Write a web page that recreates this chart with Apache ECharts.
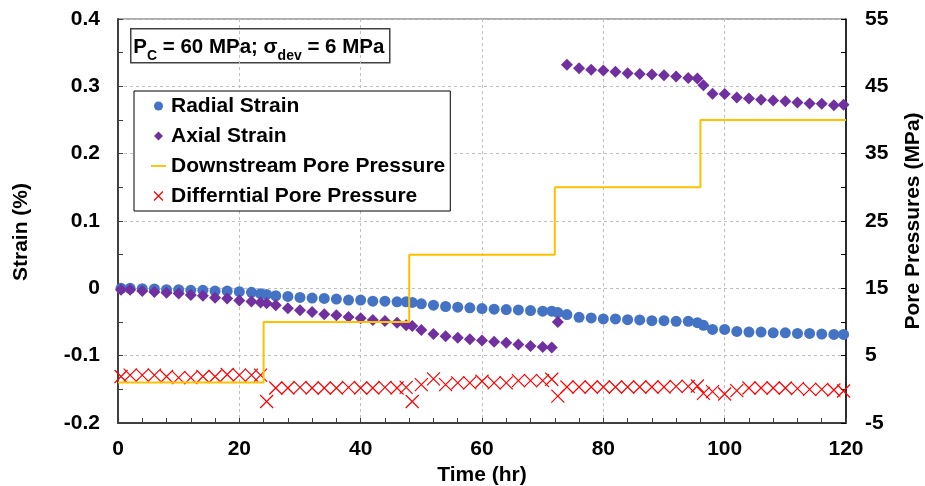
<!DOCTYPE html>
<html><head><meta charset="utf-8">
<script src="https://cdn.jsdelivr.net/npm/echarts@6/dist/echarts.min.js"></script>
<style>html,body{margin:0;padding:0;background:#fff}#chart{width:925px;height:486px}</style>
</head><body><div id="chart"></div>
<script>
// ---- data ----
const timeHr = [0.5,2,4,6,8,10,12,14,16,18,20,22,23.5,24.5,
  26,28,30,32,34,36,38,40,42,44,46,47.5,48.5,
  50,52,54,56,58,60,62,64,66,68,70,71.5,72.5,
  74,76,78,80,82,84,86,88,90,92,94,95.5,96.5,
  98,100,102,104,106,108,110,112,114,116,118,119.6];
const radialStrain = [0,0,-0.0005,-0.001,-0.002,-0.002,-0.003,-0.003,-0.004,-0.004,-0.005,-0.006,-0.008,-0.009,
  -0.011,-0.012,-0.0135,-0.0145,-0.015,-0.016,-0.0175,-0.0175,-0.019,-0.019,-0.020,-0.020,-0.021,
  -0.023,-0.025,-0.027,-0.028,-0.029,-0.030,-0.031,-0.0316,-0.032,-0.033,-0.034,-0.034,-0.036,
  -0.039,-0.043,-0.044,-0.0455,-0.0455,-0.0465,-0.047,-0.048,-0.048,-0.049,-0.049,-0.051,-0.055,
  -0.061,-0.061,-0.064,-0.065,-0.065,-0.066,-0.066,-0.067,-0.067,-0.068,-0.0685,-0.0685];
const axialStrain = [-0.002,-0.002,-0.004,-0.0055,-0.0065,-0.0075,-0.010,-0.011,-0.014,-0.015,-0.018,-0.0195,-0.021,-0.022,
  -0.025,-0.0295,-0.0325,-0.035,-0.0385,-0.040,-0.0425,-0.0445,-0.047,-0.0485,-0.051,-0.055,-0.056,
  -0.062,-0.068,-0.071,-0.0735,-0.0755,-0.0775,-0.0795,-0.081,-0.0835,-0.0855,-0.087,-0.088,-0.050,
  0.332,0.327,0.3245,0.3235,0.3215,0.3195,0.3185,0.3175,0.3165,0.3145,0.3125,0.3115,0.3015,
  0.289,0.2885,0.2835,0.282,0.280,0.279,0.278,0.276,0.2745,0.274,0.272,0.2725];
const diffPorePressure = [1.9,2.1,2.1,2.1,1.9,1.75,1.75,1.9,1.9,2.2,2.1,2.1,2.1,-1.8,
  0.2,0.2,0.3,0.2,0.2,0.2,0.3,0.2,0.2,0.3,0.2,0.3,-1.8,
  0.7,1.55,0.7,0.95,0.95,1.2,0.95,0.95,1.3,1.3,1.3,1.5,-1.0,
  0.35,0.35,0.35,0.35,0.35,0.35,0.35,0.35,0.35,0.45,0.45,0.5,-0.6,
  -0.35,-0.7,-0.2,0.2,0.2,0.2,0.2,0.1,0.0,0.0,-0.1,-0.25,1.5];
const downstreamTime = [0,24,24,48,48,72,72,96,96,120];
const downstreamPressure = [1,1,10,10,20,20,30,30,40,40];
const timeTicks = [0,20,40,60,80,100,120];
const strainTicks = [-0.2,-0.1,0,0.1,0.2,0.3,0.4];
const pressureTicks = [-5,5,15,25,35,45,55];
const seriesNames = ['Radial Strain','Axial Strain','Downstream Pore Pressure','Differntial Pore Pressure'];

// ---- chart ----
const FONT = '"Liberation Sans", Arial, sans-serif';
const zip = (xs, ys) => xs.map((x, i) => [x, ys[i]]);
const labelStyle = {fontSize:21, fontWeight:'bold', color:'#000', fontFamily:FONT};
const X_PATH = 'path://M0,0L10,10M10,0L0,10';
const DIAMOND_PATH = 'path://M5,0L10,5L5,10L0,5Z';
const LINE_PATH = 'path://M0,0L16,0L16,2L0,2Z';

const chart = echarts.init(document.getElementById('chart'), null, {renderer:'canvas'});
chart.setOption({
  animation:false,
  backgroundColor:'#fff',
  grid:{left:118, right:79, top:19, bottom:63, outerBoundsMode:'none', containLabel:false,
        show:true, borderColor:'#595959', borderWidth:1},
  xAxis:{
    type:'value', min:timeTicks[0], max:timeTicks[timeTicks.length-1], interval:timeTicks[1]-timeTicks[0],
    name:'Time (hr)', nameLocation:'middle', nameGap:37, nameTextStyle:labelStyle,
    axisLine:{show:true, onZero:false, lineStyle:{color:'#404040', width:2}},
    axisTick:{show:true, inside:true, length:5, lineStyle:{color:'#404040', width:1}},
    minorTick:{show:true, splitNumber:5, length:5, lineStyle:{color:'#404040', width:1}},
    axisLabel:Object.assign({margin:16}, labelStyle),
    splitLine:{show:true, lineStyle:{color:'#BFBFBF', type:[3,3], width:1}}
  },
  yAxis:[{
    type:'value', position:'left', min:strainTicks[0], max:strainTicks[strainTicks.length-1], interval:0.1,
    name:'Strain (%)', nameLocation:'middle', nameRotate:90, nameGap:86,
    nameTextStyle:Object.assign({padding:[0,22,0,0]}, labelStyle),
    axisLine:{show:true, onZero:false, lineStyle:{color:'#404040', width:2}},
    axisTick:{show:true, inside:true, length:5, lineStyle:{color:'#404040', width:1}},
    minorTick:{show:true, splitNumber:2, length:5, lineStyle:{color:'#404040', width:1}},
    axisLabel:Object.assign({margin:18, formatter:v => String(Math.round(v*10)/10)}, labelStyle),
    splitLine:{show:true, lineStyle:{color:'#BFBFBF', type:[3,3], width:1}}
  },{
    type:'value', position:'right', min:pressureTicks[0], max:pressureTicks[pressureTicks.length-1], interval:5,
    name:'Pore Pressures (MPa)', nameLocation:'middle', nameRotate:90, nameGap:57,
    nameTextStyle:labelStyle,
    axisLine:{show:true, onZero:false, lineStyle:{color:'#000', width:1.5}},
    axisTick:{show:true, inside:true, length:5, lineStyle:{color:'#000', width:1}},
    axisLabel:Object.assign({margin:19, formatter:v => pressureTicks.indexOf(Math.round(v)) >= 0 ? String(Math.round(v)) : ''}, labelStyle),
    splitLine:{show:false}
  }],
  legend:{
    show:true, orient:'vertical', left:134, top:91, itemWidth:15, itemHeight:9, itemGap:8,
    padding:[4,5,4,17], borderColor:'#000', borderWidth:1, backgroundColor:'#fff',
    selectedMode:false,
    textStyle:Object.assign({lineHeight:22}, labelStyle),
    data:[
      {name:seriesNames[0], icon:'circle', itemStyle:{opacity:1}},
      {name:seriesNames[1], icon:DIAMOND_PATH, itemStyle:{opacity:1}},
      {name:seriesNames[2], icon:LINE_PATH, itemStyle:{color:'#FFC000', borderWidth:0, opacity:1}},
      {name:seriesNames[3], icon:X_PATH, itemStyle:{borderWidth:1.2, borderColor:'#FF0000', color:'rgba(0,0,0,0)', opacity:1}}
    ]
  },
  graphic:[{
    type:'group', left:130, top:28,
    children:[
      {type:'rect', shape:{x:0.5, y:0.5, width:259, height:34}, style:{fill:'#fff', stroke:'#404040', lineWidth:1.5}},
      {type:'text', x:3, y:19.5, style:{
        text:'{m|P}{s|C}{m| = 60 MPa; σ}{s|dev}{m| = 6 MPa}',
        verticalAlign:'middle',
        rich:{
          m:{fontSize:20.5, fontWeight:'bold', fontFamily:FONT, fill:'#000', color:'#000', lineHeight:30, verticalAlign:'middle'},
          s:{fontSize:14, fontWeight:'bold', fontFamily:FONT, fill:'#000', color:'#000', lineHeight:14, verticalAlign:'bottom'}
        }
      }}
    ]
  }],
  series:[
    {name:seriesNames[0], type:'scatter', yAxisIndex:0, symbol:'circle', symbolSize:11, clip:false,
     itemStyle:{color:'#4472C4', opacity:1}, data:zip(timeHr, radialStrain)},
    {name:seriesNames[1], type:'scatter', yAxisIndex:0, symbol:'diamond', symbolSize:12, clip:false,
     itemStyle:{color:'#7030A0', opacity:1}, data:zip(timeHr, axialStrain)},
    {name:seriesNames[2], type:'line', yAxisIndex:1, symbol:'none', showSymbol:false,
     lineStyle:{color:'#FFC000', width:2}, itemStyle:{color:'#FFC000'}, data:zip(downstreamTime, downstreamPressure)},
    {name:seriesNames[3], type:'scatter', yAxisIndex:1, symbol:X_PATH, symbolSize:13, clip:false,
     itemStyle:{color:'rgba(0,0,0,0)', borderColor:'#FF0000', borderWidth:1.2, opacity:1}, data:zip(timeHr, diffPorePressure)}
  ]
});
</script></body></html>
